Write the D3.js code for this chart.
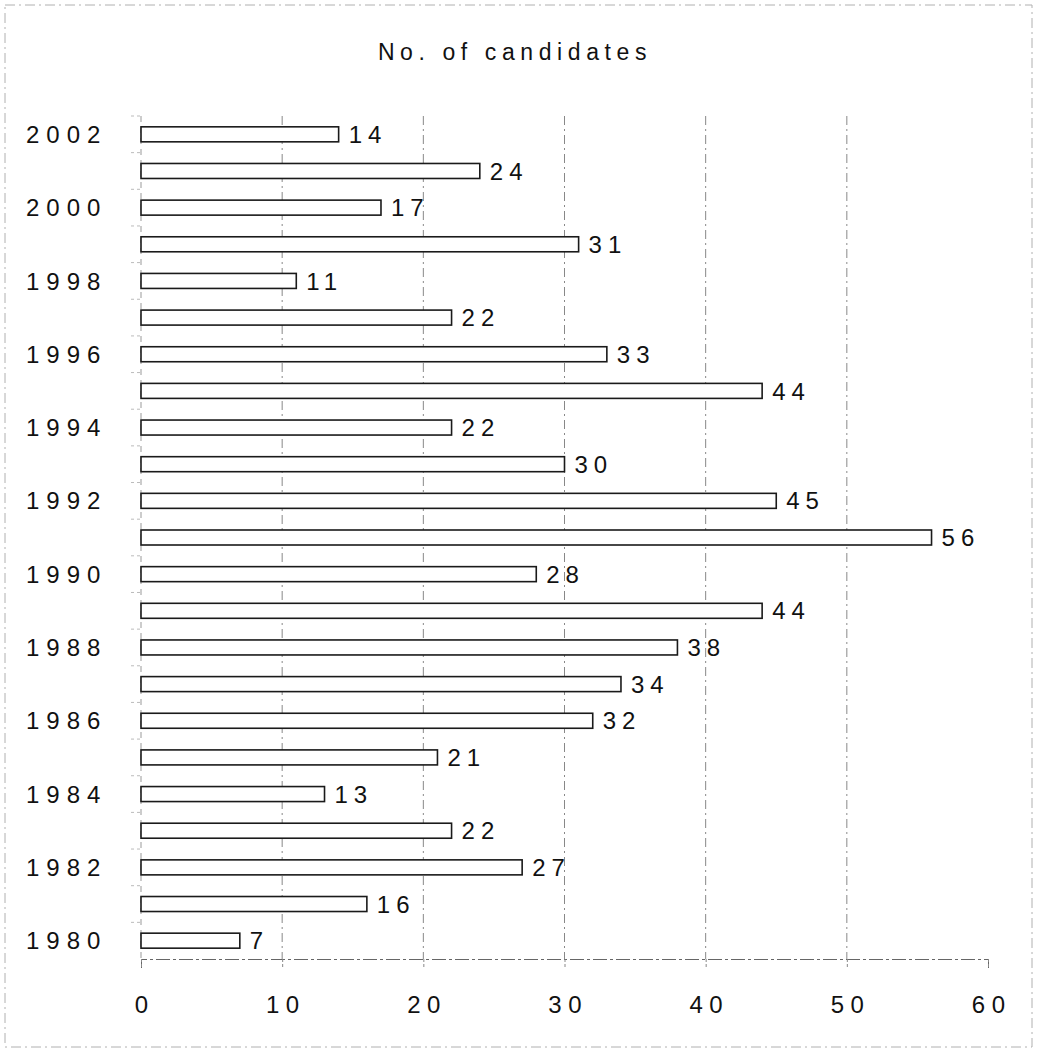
<!DOCTYPE html>
<html>
<head>
<meta charset="utf-8">
<script src="https://cdn.jsdelivr.net/npm/d3@7"></script>
<style>
  body { margin: 0; background: #fff; }
  text { font-family: "Liberation Sans", Arial, sans-serif; fill: #111; }
</style>
</head>
<body>
<svg id="chart"></svg>
<script>
// data, top of chart is the latest year
var years = [2002, 2001, 2000, 1999, 1998, 1997, 1996, 1995, 1994, 1993, 1992, 1991,
             1990, 1989, 1988, 1987, 1986, 1985, 1984, 1983, 1982, 1981, 1980];
var candidates = [14, 24, 17, 31, 11, 22, 33, 44, 22, 30, 45, 56,
                  28, 44, 38, 34, 32, 21, 13, 22, 27, 16, 7];
var xTicks = [0, 10, 20, 30, 40, 50, 60];
var title = "No. of candidates";

var W = 1040, H = 1049;
var plot = { left: 141, right: 988, top: 116, bottom: 959 };
var barH = 15;

var svg = d3.select("#chart").attr("width", W).attr("height", H);

var x = d3.scaleLinear().domain([0, 60]).range([plot.left, plot.right]);
var y = d3.scaleBand().domain(years).range([plot.top, plot.bottom]).padding(0);

// outer frame
svg.append("rect")
    .attr("x", 5).attr("y", 5)
    .attr("width", 1027).attr("height", 1042)
    .attr("fill", "none")
    .attr("stroke", "#b0b0b0")
    .attr("stroke-width", 1)
    .attr("stroke-dasharray", "10,4,2,4");

// title
svg.append("text")
    .attr("x", 515).attr("y", 60)
    .attr("text-anchor", "middle")
    .style("font-size", "23px")
    .style("letter-spacing", "5.6px")
    .text(title);

// vertical grid
svg.append("g").selectAll("line")
    .data(xTicks.filter(function (d) { return d > 0 && d < 60; }))
    .enter().append("line")
    .attr("x1", function (d) { return x(d); })
    .attr("x2", function (d) { return x(d); })
    .attr("y1", plot.top)
    .attr("y2", plot.bottom)
    .attr("stroke", "#888")
    .attr("stroke-width", 1)
    .attr("stroke-dasharray", "9,4,2,4");

// y axis line (faint, dashed)
svg.append("line")
    .attr("x1", plot.left).attr("x2", plot.left)
    .attr("y1", plot.top).attr("y2", plot.bottom)
    .attr("stroke", "#999")
    .attr("stroke-dasharray", "6,5");

// y axis small ticks at band boundaries
svg.append("g").selectAll("line")
    .data(years)
    .enter().append("line")
    .attr("x1", plot.left - 10).attr("x2", plot.left)
    .attr("y1", function (d) { return y(d); })
    .attr("y2", function (d) { return y(d); })
    .attr("stroke", "#bbb")
    .attr("stroke-dasharray", "3,3");

// x axis
var xAxis = d3.axisBottom(x).tickValues(xTicks).tickSize(9).tickPadding(28)
    .tickFormat(d3.format("d"));
var gx = svg.append("g")
    .attr("transform", "translate(0," + plot.bottom + ")")
    .call(xAxis);
gx.select(".domain").attr("stroke", "#666").attr("stroke-dasharray", "14,3,3,3");
gx.selectAll(".tick line").attr("stroke", "#888").attr("stroke-dasharray", "3,2");
gx.selectAll(".tick text")
    .style("font-size", "24px")
    .style("letter-spacing", "6.5px")
    .attr("dx", "3.2px")
    .attr("fill", "#111");

// bars
svg.append("g").selectAll("rect")
    .data(years)
    .enter().append("rect")
    .attr("x", x(0))
    .attr("y", function (d) { return y(d) + y.bandwidth() / 2 - barH / 2; })
    .attr("width", function (d, i) { return x(candidates[i]) - x(0); })
    .attr("height", barH)
    .attr("fill", "#fff")
    .attr("stroke", "#1a1a1a")
    .attr("stroke-width", 1.6);

// value labels
svg.append("g").selectAll("text")
    .data(years)
    .enter().append("text")
    .attr("x", function (d, i) { return x(candidates[i]) + 10; })
    .attr("y", function (d) { return y(d) + y.bandwidth() / 2; })
    .attr("dy", "0.36em")
    .style("font-size", "24px")
    .style("letter-spacing", "6px")
    .text(function (d, i) { return candidates[i]; });

// year labels, even years only
svg.append("g").selectAll("text")
    .data(years.filter(function (d) { return d % 2 === 0; }))
    .enter().append("text")
    .attr("x", 26)
    .attr("y", function (d) { return y(d) + y.bandwidth() / 2; })
    .attr("dy", "0.36em")
    .style("font-size", "24px")
    .style("letter-spacing", "7px")
    .text(function (d) { return d; });
</script>
</body>
</html>
